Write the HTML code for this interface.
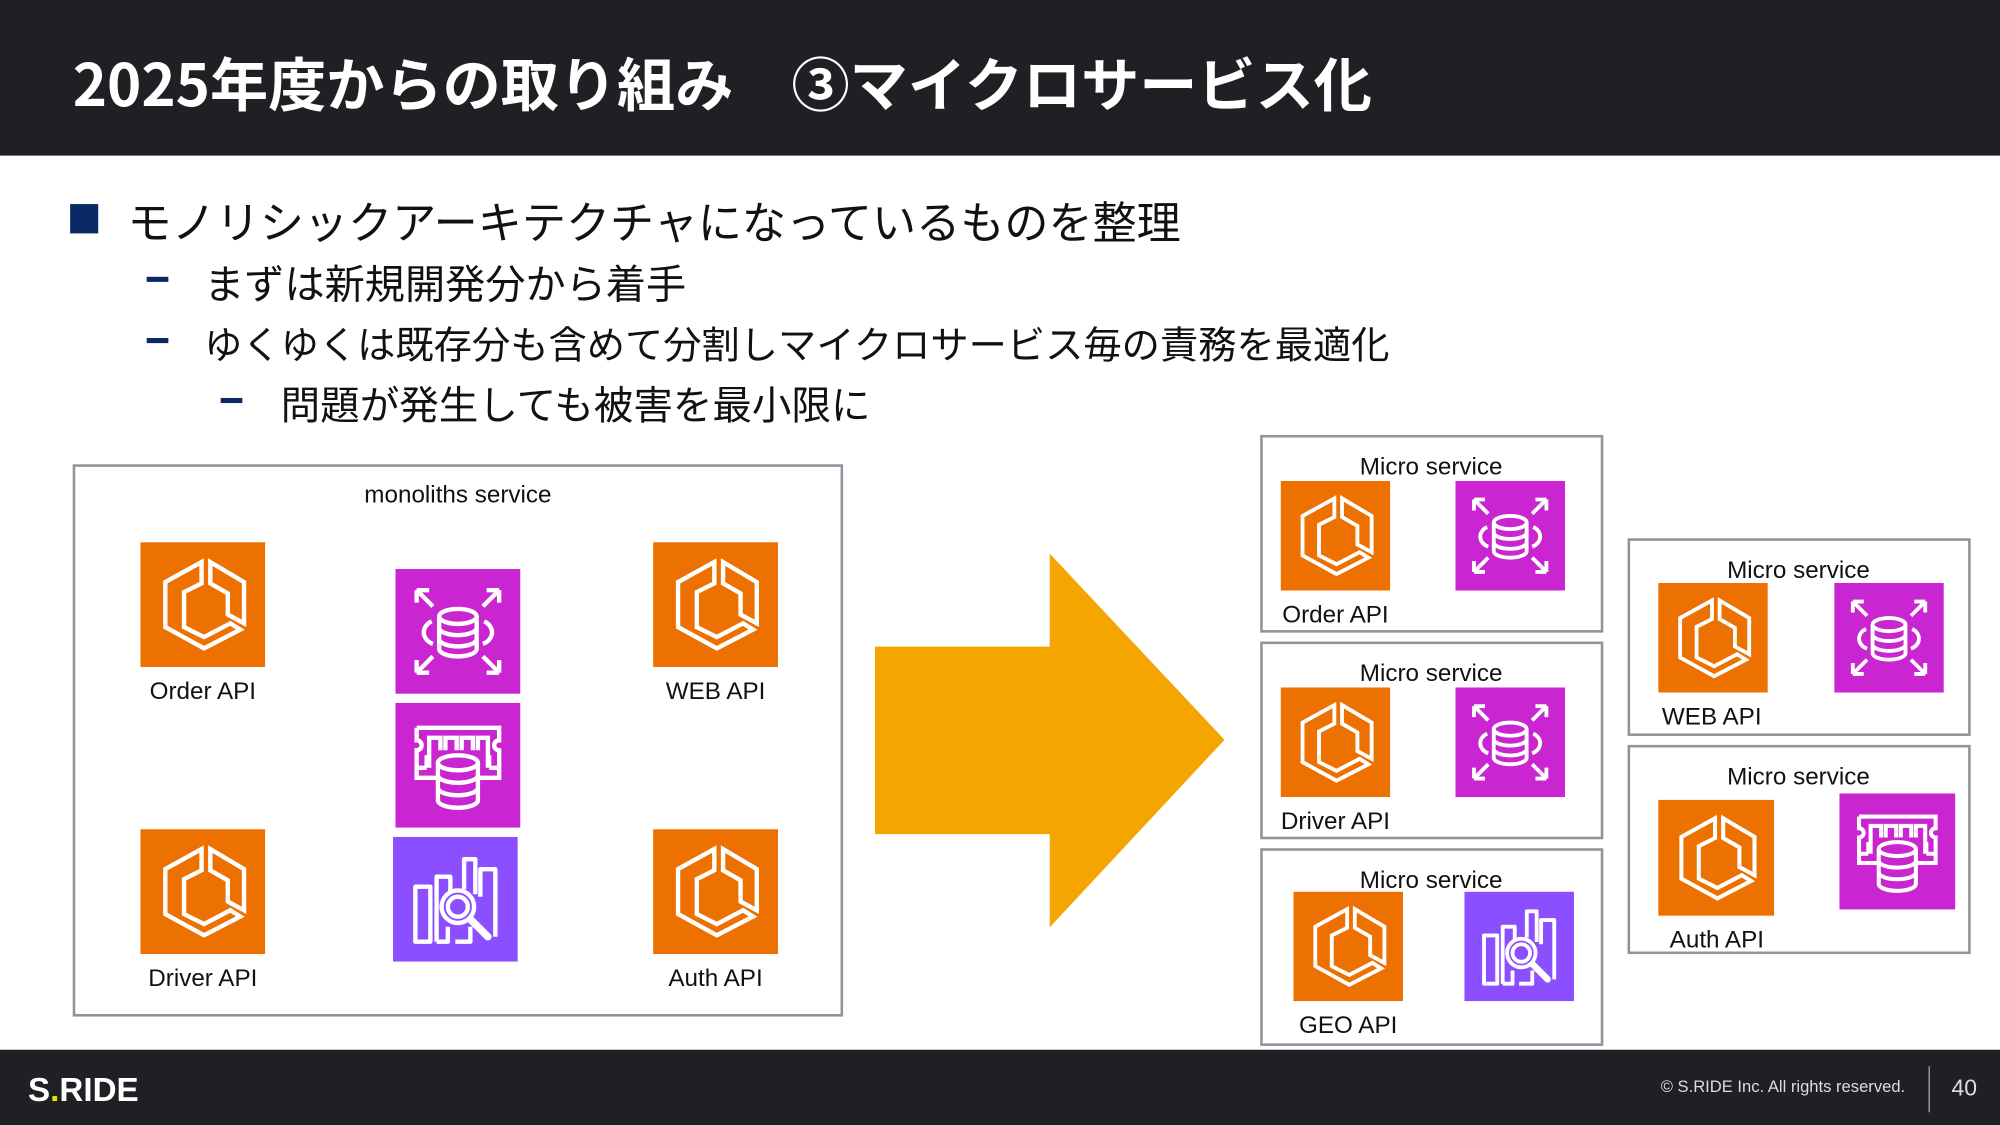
<!DOCTYPE html>
<html><head><meta charset="utf-8">
<style>
html,body{margin:0;padding:0;background:#fff;overflow:hidden}
#w{width:1568px;height:882px;position:relative;transform:scale(1.27551);transform-origin:0 0;font-family:"Liberation Sans","Noto Sans CJK JP",sans-serif;}
.a{position:absolute;white-space:nowrap}
.jp{font-family:"Noto Sans CJK JP",sans-serif}
.box{position:absolute;border:2.5px solid #8d949c;box-sizing:border-box}
.ic{position:absolute}
.lb{position:absolute;font-size:19px;color:#111;white-space:nowrap;transform:translateX(-50%)}
</style></head><body>
<svg width="0" height="0" style="position:absolute">
<defs>
<symbol id="ecs" viewBox="0 0 100 100"><rect width="100" height="100" fill="#ed7100"/>
<g fill="none" stroke="#fff" stroke-width="3.5" stroke-linejoin="miter">
<path d="M49 16 L20 32 L20 68 L51 85 L80 70 L72 65 L51 76 L35 68 L35 40 L49 33 Z"/>
<path d="M56 16 L56 33 L70 41 L70 58 L83 65 L83 32 Z"/></g></symbol>
<symbol id="rds" viewBox="0 0 100 100"><rect width="100" height="100" fill="#c925d1"/>
<g fill="none" stroke="#fff" stroke-width="3.5">
<ellipse cx="50" cy="38" rx="15" ry="6"/><path d="M35 38 V64 A15 6 0 0 0 65 64 V38 M35 47 A15 6 0 0 0 65 47 M35 56 A15 6 0 0 0 65 56"/>
<path d="M29 42 A12 10 0 0 0 30 60 M71 42 A12 10 0 0 1 70 60"/>
<path d="M17 17 L30 30 M17 17 V27 M17 17 H27 M83 17 L70 30 M83 17 V27 M83 17 H73 M17 83 L30 70 M17 83 V73 M17 83 H27 M83 83 L70 70 M83 83 V73 M83 83 H73"/></g></symbol>
<symbol id="mem" viewBox="0 0 100 100"><rect width="100" height="100" fill="#c925d1"/>
<g fill="none" stroke="#fff" stroke-width="3.5">
<path d="M17 20 H83 V30 A4 4 0 0 0 83 38 V52 H75 M17 20 V30 A4 4 0 0 1 17 38 V52 H25 M27 52 V28 H36 V38 M40 38 V28 H49 V38 M53 38 V28 H62 V38 M66 38 V28 H74 V52 M17 52 V60 H33 M83 52 V60 H67 M25 52 V42 M75 52 V42"/>
<ellipse cx="50" cy="48" rx="16" ry="6"/><path d="M34 48 V78 A16 6 0 0 0 66 78 V48 M34 58 A16 6 0 0 0 66 58 M34 68 A16 6 0 0 0 66 68"/></g></symbol>
<symbol id="os" viewBox="0 0 100 100"><rect width="100" height="100" fill="#8c4fff"/>
<g fill="none" stroke="#fff" stroke-width="3.5" stroke-linejoin="round">
<path d="M18 40 H30 V84 H18 Z M35 84 V32 H46 V44 M57 42 V18 H66 V46 M70 48 V26 H82 V80 M50 84 H62 V72 M35 84 H44 V72"/>
<circle cx="52" cy="56" r="13"/><circle cx="52" cy="56" r="8"/><path d="M62 66 L76 80" stroke-width="6" stroke-linecap="round"/></g></symbol>
</defs></svg>
<div id="w">
<div class="a" style="left:0;top:0;width:1568px;height:122px;background:#1f2024"></div>
<div class="a jp" style="left:57px;top:34px;font-size:45.6px;font-weight:700;color:#fff;line-height:60px">2025年度からの取り組み　③マイクロサービス化</div>
<div class="a" style="left:55px;top:160px;width:22px;height:23px;background:#0a2a66"></div>
<div class="a jp" style="left:100px;top:147px;font-size:34.6px;color:#111;line-height:50px">モノリシックアーキテクチャになっているものを整理</div>
<div class="a" style="left:115px;top:217px;width:17px;height:4px;background:#0a2a66"></div>
<div class="a jp" style="left:160px;top:199px;font-size:31.5px;color:#111;line-height:44px">まずは新規開発分から着手</div>
<div class="a" style="left:115px;top:265px;width:17px;height:4px;background:#0a2a66"></div>
<div class="a jp" style="left:160px;top:246px;font-size:30px;color:#111;line-height:44px">ゆくゆくは既存分も含めて分割しマイクロサービス毎の責務を最適化</div>
<div class="a" style="left:173px;top:312px;width:17px;height:4px;background:#0a2a66"></div>
<div class="a jp" style="left:220px;top:294px;font-size:31px;color:#111;line-height:44px">問題が発生しても被害を最小限に</div>

<div class="box" style="left:57px;top:364px;width:604px;height:433px"></div>
<div class="lb" style="left:359px;top:378px">monoliths service</div>
<svg class="ic" style="left:110px;top:425px" width="98" height="98"><use href="#ecs"/></svg>
<div class="lb" style="left:159px;top:532px">Order API</div>
<svg class="ic" style="left:512px;top:425px" width="98" height="98"><use href="#ecs"/></svg>
<div class="lb" style="left:561px;top:532px">WEB API</div>
<svg class="ic" style="left:110px;top:650px" width="98" height="98"><use href="#ecs"/></svg>
<div class="lb" style="left:159px;top:757px">Driver API</div>
<svg class="ic" style="left:512px;top:650px" width="98" height="98"><use href="#ecs"/></svg>
<div class="lb" style="left:561px;top:757px">Auth API</div>
<svg class="ic" style="left:310px;top:446px" width="98" height="98"><use href="#rds"/></svg>
<svg class="ic" style="left:310px;top:551px" width="98" height="98"><use href="#mem"/></svg>
<svg class="ic" style="left:308px;top:656px" width="98" height="98"><use href="#os"/></svg>

<svg class="ic" style="left:686px;top:434px" width="275" height="294"><polygon points="0,73 137,73 137,0 274,146 137,293 137,220 0,220" fill="#f5a500"/></svg>

<div class="box" style="left:988px;top:341px;width:269px;height:155px"></div>
<div class="lb" style="left:1122px;top:356px">Micro service</div>
<svg class="ic" style="left:1004px;top:377px" width="86" height="86"><use href="#ecs"/></svg>
<svg class="ic" style="left:1141px;top:377px" width="86" height="86"><use href="#rds"/></svg>
<div class="lb" style="left:1047px;top:472px">Order API</div>

<div class="box" style="left:988px;top:503px;width:269px;height:155px"></div>
<div class="lb" style="left:1122px;top:518px">Micro service</div>
<svg class="ic" style="left:1004px;top:539px" width="86" height="86"><use href="#ecs"/></svg>
<svg class="ic" style="left:1141px;top:539px" width="86" height="86"><use href="#rds"/></svg>
<div class="lb" style="left:1047px;top:634px">Driver API</div>

<div class="box" style="left:988px;top:665px;width:269px;height:155px"></div>
<div class="lb" style="left:1122px;top:680px">Micro service</div>
<svg class="ic" style="left:1014px;top:699px" width="86" height="86"><use href="#ecs"/></svg>
<svg class="ic" style="left:1148px;top:699px" width="86" height="86"><use href="#os"/></svg>
<div class="lb" style="left:1057px;top:794px">GEO API</div>

<div class="box" style="left:1276px;top:422px;width:269px;height:155px"></div>
<div class="lb" style="left:1410px;top:437px">Micro service</div>
<svg class="ic" style="left:1300px;top:457px" width="86" height="86"><use href="#ecs"/></svg>
<svg class="ic" style="left:1438px;top:457px" width="86" height="86"><use href="#rds"/></svg>
<div class="lb" style="left:1342px;top:552px">WEB API</div>

<div class="box" style="left:1276px;top:584px;width:269px;height:164px"></div>
<div class="lb" style="left:1410px;top:599px">Micro service</div>
<svg class="ic" style="left:1300px;top:627px" width="91" height="91"><use href="#ecs"/></svg>
<svg class="ic" style="left:1442px;top:622px" width="91" height="91"><use href="#mem"/></svg>
<div class="lb" style="left:1346px;top:727px">Auth API</div>

<div class="a" style="left:0;top:823px;width:1568px;height:59px;background:#1f2024"></div>
<div class="a" style="left:22px;top:838px;font-size:26px;font-weight:700;color:#fff;line-height:32px">S<span style="color:#e8e000">.</span>RIDE</div>
<div class="a" style="left:1302px;top:844px;font-size:13px;color:#ddd;line-height:16px">© S.RIDE Inc. All rights reserved.</div>
<div class="a" style="left:1512px;top:836px;width:1px;height:36px;background:#aaa"></div>
<div class="a" style="left:1530px;top:842px;font-size:18px;color:#ddd;line-height:22px">40</div>
</div>
</body></html>
